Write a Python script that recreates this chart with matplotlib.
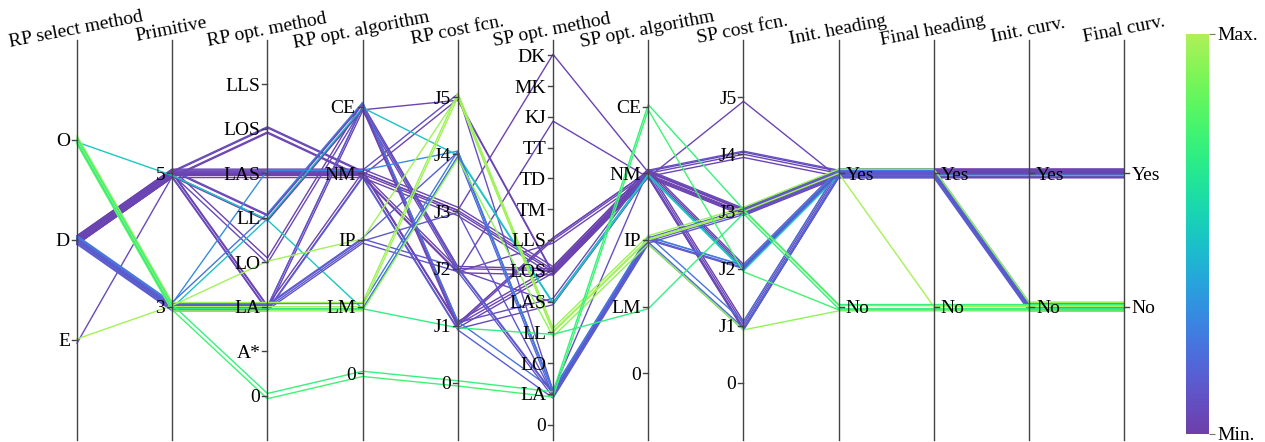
import numpy as np
import matplotlib
matplotlib.use("Agg")
import matplotlib.pyplot as plt
from matplotlib import font_manager
from matplotlib.colors import ListedColormap
from matplotlib.transforms import offset_copy

# locate a Times-like serif font file
serif_name = 'DejaVu Serif'
for f in font_manager.findSystemFonts():
    base = f.replace('\\', '/').split('/')[-1]
    if base.lower() in ('liberationserif-regular.ttf', 'times.ttf', 'times new roman.ttf'):
        font_manager.fontManager.addfont(f)
        serif_name = font_manager.FontProperties(fname=f).get_name()
        break
plt.rcParams['font.family'] = [serif_name, 'DejaVu Serif']

# ---------------- axes definitions ----------------
axis_titles = ["RP select method", "Primitive", "RP opt. method", "RP opt. algorithm",
               "RP cost fcn.", "SP opt. method", "SP opt. algorithm", "SP cost fcn.",
               "Init. heading", "Final heading", "Init. curv.", "Final curv."]
cat_rp_select = ["E", "D", "O"]
cat_primitive = ["3", "5"]
cat_rp_method = ["0", "A*", "LA", "LO", "LL", "LAS", "LOS", "LLS"]
cat_algorithm = ["0", "LM", "IP", "NM", "CE"]
cat_cost = ["0", "J1", "J2", "J3", "J4", "J5"]
cat_sp_method = ["0", "LA", "LO", "LL", "LAS", "LOS", "LLS", "TM", "TD", "TT", "KJ", "MK", "DK"]
cat_yes_no = ["No", "Yes"]
axis_categories = [cat_rp_select, cat_primitive, cat_rp_method, cat_algorithm, cat_cost,
                   cat_sp_method, cat_algorithm, cat_cost, cat_yes_no, cat_yes_no,
                   cat_yes_no, cat_yes_no]
axis_ranges = [(-1, 3), (-1, 2), (-1, 8), (-1, 5), (-1, 6), (-0.5, 12.5),
               (-1, 5), (-1, 6), (-1, 2), (-1, 2), (-1, 2), (-1, 2)]

# ---------------- records (one per line) ----------------
rp_select = ["D"] * 20 + ["E", "D", "O"] + ["D"] * 11 + ["O", "O", "O", "E", "O", "O", "O"]
primitive = ["5"] * 23 + ["3"] * 18
rp_method = (["LOS"] * 4 + ["LAS"] * 7 + ["LL"] * 4 + ["LO"] * 2 + ["LA"] * 4 +
             ["LAS", "LL", "LAS", "LL", "LL"] + ["LA"] * 8 + ["LA"] * 3 +
             ["LO", "0", "0", "LA"])
rp_algorithm = (["NM"] * 11 + ["CE"] * 8 + ["NM"] * 3 +
                ["LM", "NM", "CE", "CE", "CE", "NM", "IP", "IP", "IP", "LM", "LM", "IP",
                 "LM", "LM", "LM", "IP", "0", "0", "LM"])
rp_cost = ["J3", "J3", "J2", "J1", "J5", "J5", "J3", "J3", "J2", "J2", "J1", "J5", "J2",
           "J1", "J1", "J2", "J1", "J1", "J2", "J3", "J1", "J1", "J4", "J4", "J4", "J1",
           "J2", "J1", "J2", "J2", "J4", "J4", "J4", "J3", "J5", "J5", "J4", "J5", "0",
           "0", "J1"]
sp_method = ["LOS", "LOS", "LLS", "LLS", "LOS", "LA", "LOS", "LOS", "LOS", "LOS", "LOS",
             "LOS", "LOS", "LOS", "LAS", "LAS", "LOS", "LLS", "KJ", "DK", "LAS", "LLS",
             "LAS", "LA", "LAS"] + ["LA"] * 9 + ["LL"] * 4 + ["LA", "LA", "LL"]
sp_algorithm = ["NM"] * 23 + ["IP", "NM"] + ["IP"] * 13 + ["CE", "CE", "LM"]
sp_cost = ["J3", "J3", "J4", "J4", "J3", "J4", "J3", "J2", "J2", "J1", "J1", "J3", "J2",
           "J1", "J3", "J2", "J1", "J4", "J5", "J3", "J1", "J3", "J2", "J2", "J2", "J1",
           "J2", "J1", "J2", "J3", "J3", "J1", "J2", "J3", "J3", "J3", "J1", "J3", "J2",
           "J3", "J3"]
init_heading = ["Yes"] * 36 + ["No"] * 5
final_heading = ["Yes"] * 35 + ["No"] * 6
init_curv = ["Yes"] * 23 + ["No"] * 18
final_curv = ["Yes"] * 23 + ["No"] * 18
color_value = [0.02, 0.04, 0.03, 0.05, 0.02, 0.08, 0.01, 0.03, 0.02, 0.00, 0.04, 0.03,
               0.01, 0.02, 0.06, 0.05, 0.01, 0.04, 0.03, 0.02, 0.05, 0.03, 0.50, 0.30,
               0.48, 0.22, 0.12, 0.14, 0.12, 0.10, 0.13, 0.18, 0.24, 0.11, 0.95, 0.98,
               0.93, 0.97, 0.75, 0.72, 0.70]
columns = [rp_select, primitive, rp_method, rp_algorithm, rp_cost, sp_method,
           sp_algorithm, sp_cost, init_heading, final_heading, init_curv, final_curv]


# ---------------- colormap (cubehelix "cool") ----------------
def cubehelix_cool(n=256):
    t = np.linspace(0, 1, n)
    h = np.deg2rad(260 - 180 * t + 120)
    s = 0.75 + 0.75 * t
    l = 0.35 + 0.45 * t
    a = s * l * (1 - l)
    c, sn = np.cos(h), np.sin(h)
    r = l + a * (-0.14861 * c + 1.78277 * sn)
    g = l + a * (-0.29227 * c - 0.90649 * sn)
    b = l + a * (1.97294 * c)
    return ListedColormap(np.clip(np.stack([r, g, b], 1), 0, 1))


cmap = cubehelix_cool()

# ---------------- figure ----------------
W, H = 1265, 442
fig = plt.figure(figsize=(W / 100, H / 100), dpi=100)
x_first, x_last, y_top, y_bot = 77, 1124.3, 40, 440
n_axes = len(axis_titles)
px_per_unit = (x_last - x_first) / (n_axes - 1)
ax = fig.add_axes([x_first / W, (H - y_bot) / H, (x_last - x_first) / W, (y_bot - y_top) / H])
ax.set_xlim(0, n_axes - 1)
ax.set_ylim(0, 1)
ax.axis('off')


def norm(axis_i, label):
    lo, hi = axis_ranges[axis_i]
    return (axis_categories[axis_i].index(label) - lo) / (hi - lo)


n_rec = len(color_value)
xs = np.arange(n_axes)
for r in range(n_rec):
    off_px = (((r * 5) % 9) - 4) * 1.05
    ys = [norm(i, columns[i][r]) + off_px / (y_bot - y_top) for i in range(n_axes)]
    ax.plot(xs, ys, color=cmap(color_value[r]), lw=1.0, solid_joinstyle='round',
            clip_on=False, zorder=2)

tick_len = 5 / px_per_unit
for i in range(n_axes):
    ax.plot([i, i], [0, 1], color='#444444', lw=1.0, clip_on=False, zorder=3)
    right = i >= 8
    for label in axis_categories[i]:
        yn = norm(i, label)
        if right:
            ax.plot([i, i + tick_len], [yn, yn], color='#444444', lw=1.0, clip_on=False, zorder=3)
            tr = offset_copy(ax.transData, fig=fig, x=7, y=0, units='dots')
            ax.text(i, yn, label, transform=tr, ha='left', va='center_baseline',
                    fontsize=14, zorder=5)
        else:
            ax.plot([i - tick_len, i], [yn, yn], color='#444444', lw=1.0, clip_on=False, zorder=3)
            tr = offset_copy(ax.transData, fig=fig, x=-7, y=0, units='dots')
            ax.text(i, yn, label, transform=tr, ha='right', va='center_baseline',
                    fontsize=14, zorder=5)
    trt = offset_copy(ax.transData, fig=fig, x=0, y=5.5, units='dots')
    ax.text(i, 1, axis_titles[i], transform=trt, rotation=11, rotation_mode='anchor',
            ha='center', va='baseline', fontsize=14, zorder=5)

# ---------------- colorbar ----------------
cax = fig.add_axes([1186 / W, (H - 434) / H, 23 / W, 400 / H])
cax.imshow(np.linspace(0, 1, 256)[:, None], aspect='auto', cmap=cmap, origin='lower',
           extent=[0, 1, 0, 1])
cax.set_xticks([])
cax.yaxis.tick_right()
cax.set_yticks([0, 1])
cax.set_yticklabels(['Min.', 'Max.'])
cax.tick_params(axis='y', length=4, color='#777777', pad=2, labelsize=14)
for sp in cax.spines.values():
    sp.set_visible(False)

fig.savefig('out.png', dpi=100)
